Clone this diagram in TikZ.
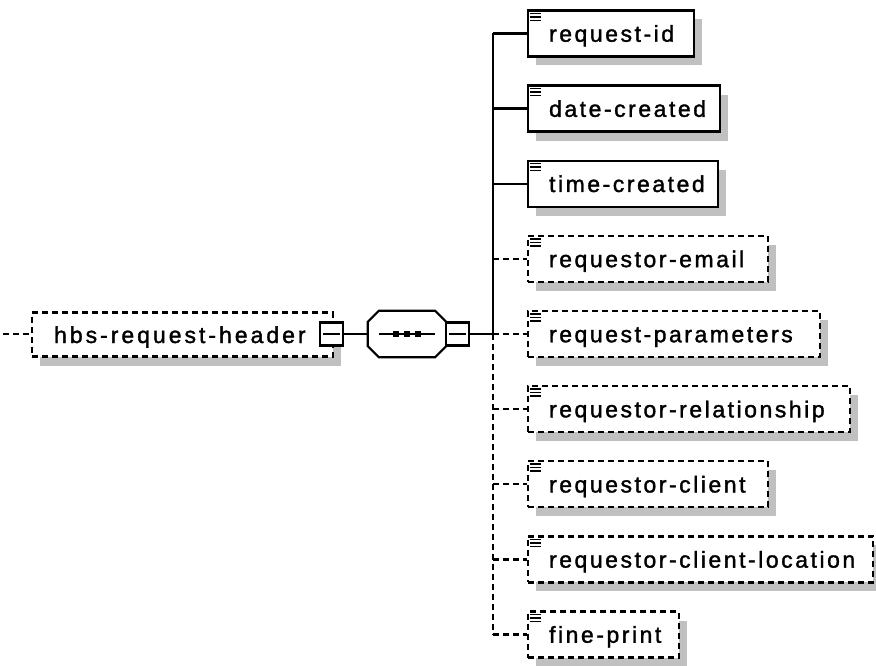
\documentclass[tikz,border=0pt]{standalone}
\usepackage{fontspec}
\setmainfont{Liberation Sans}[LetterSpace=11, FakeBold=1.5]
\newfontfamily\hbsfont{Liberation Sans}[LetterSpace=13, FakeBold=1.5]
\usetikzlibrary{calc}
\definecolor{shadowgray}{HTML}{C0C0C0}
\tikzset{
  conn/.style={line width=2.2pt},
  dconn/.style={line width=2.2pt, dash pattern=on 6pt off 4pt},
  elbox/.style={draw, fill=white, anchor=west, inner sep=0pt, minimum height=46pt,
                text height=16.5pt, text depth=0pt, font=\fontsize{23pt}{27pt}\selectfont},
  minusbox/.style={draw, conn, fill=white, minimum width=23pt, minimum height=23pt, inner sep=0pt},
  dotsq/.style={fill=black, minimum size=6pt, inner sep=0pt},
  iconline/.style={line width=1.6pt}
}
% #1 name, #2 y centre, #3 box width, #4 text, #5 line style
\newcommand\xchild[5]{%
  \fill[shadowgray] (536,{#2-14}) rectangle ({527+#3+9},{#2+32});
  \node[elbox, #5] (#1) at (527,#2) {\makebox[#3pt][l]{\hspace*{21pt}#4}};
  \draw[iconline] ([xshift=3pt,yshift=-4pt]#1.north west) -- ++(11pt,0pt);
  \draw[iconline] ([xshift=3pt,yshift=-7.5pt]#1.north west) -- ++(11pt,0pt);
  \draw[iconline] ([xshift=3pt,yshift=-11pt]#1.north west) -- ++(11pt,0pt);
}
\begin{document}
\begin{tikzpicture}[x=1pt,y=-1pt]
\useasboundingbox (0,0) rectangle (876,666);

% ---- root element ----
\fill[shadowgray] (40,321.5) rectangle (341,365.5);
\node[elbox, dconn, minimum height=44pt, text height=17pt] (hbs) at (31,334.5)
  {\makebox[301pt][l]{\hspace*{22pt}\hbsfont hbs-request-header}};
\coordinate (start) at (3,334);
\draw[dconn] (start) -- (start -| hbs.west);
\node[minusbox] (m1) at (331.5,334) {};
\draw[conn] ([xshift=4.5pt]m1.west) -- ([xshift=-4.5pt]m1.east);

% ---- sequence compositor ----
\node[minimum width=78pt, minimum height=46pt, inner sep=0pt] (seq) at (407,334) {};
\fill[shadowgray, shift={(9pt,-9pt)}]
  ([xshift=11pt]seq.north west) -- ([xshift=-11pt]seq.north east) --
  ([yshift=-11pt]seq.north east) -- ([yshift=11pt]seq.south east) --
  ([xshift=-11pt]seq.south east) -- ([xshift=11pt]seq.south west) --
  ([yshift=11pt]seq.south west) -- ([yshift=-11pt]seq.north west) -- cycle;
\filldraw[conn, fill=white]
  ([xshift=11pt]seq.north west) -- ([xshift=-11pt]seq.north east) --
  ([yshift=-11pt]seq.north east) -- ([yshift=11pt]seq.south east) --
  ([xshift=-11pt]seq.south east) -- ([xshift=11pt]seq.south west) --
  ([yshift=11pt]seq.south west) -- ([yshift=-11pt]seq.north west) -- cycle;
\draw[conn] ([xshift=11pt]seq.west) -- ([xshift=-11pt]seq.east);
\node[dotsq] (d1) at (396,334) {};
\node[dotsq] (d2) at (407,334) {};
\node[dotsq] (d3) at (418,334) {};
\draw[conn] (m1.east) -- (seq.west);
\node[minusbox] (m2) at (457.5,334) {};
\draw[conn] ([xshift=4.5pt]m2.west) -- ([xshift=-4.5pt]m2.east);

% ---- children ----
\xchild{c1}{33.5}{166}{request-id}{conn}
\xchild{c2}{108.6}{192}{date-created}{conn}
\xchild{c3}{183.75}{190}{time-created}{conn}
\xchild{c4}{258.9}{240}{requestor-email}{dconn}
\xchild{c5}{334}{292}{request-parameters}{dconn}
\xchild{c6}{409.1}{322}{requestor-relationship}{dconn}
\xchild{c7}{484.25}{240}{requestor-client}{dconn}
\xchild{c8}{559.4}{345}{requestor-client-location}{dconn}
\xchild{c9}{634.5}{151}{fine-print}{dconn}

% ---- connectors ----
\coordinate (j) at (493,334);
\draw[conn] (m2.east) -- (j);
\draw[conn] (j |- c1.west) -- (j);
\draw[dconn] (j) -- (j |- c9.west);
\draw[conn] (j |- c1.west) -- (c1.west);
\draw[conn] (j |- c2.west) -- (c2.west);
\draw[conn] (j |- c3.west) -- (c3.west);
\draw[dconn] (j |- c4.west) -- (c4.west);
\draw[dconn] (j |- c5.west) -- (c5.west);
\draw[dconn] (j |- c6.west) -- (c6.west);
\draw[dconn] (j |- c7.west) -- (c7.west);
\draw[dconn] (j |- c8.west) -- (c8.west);
\draw[dconn] (j |- c9.west) -- (c9.west);
\end{tikzpicture}
\end{document}
